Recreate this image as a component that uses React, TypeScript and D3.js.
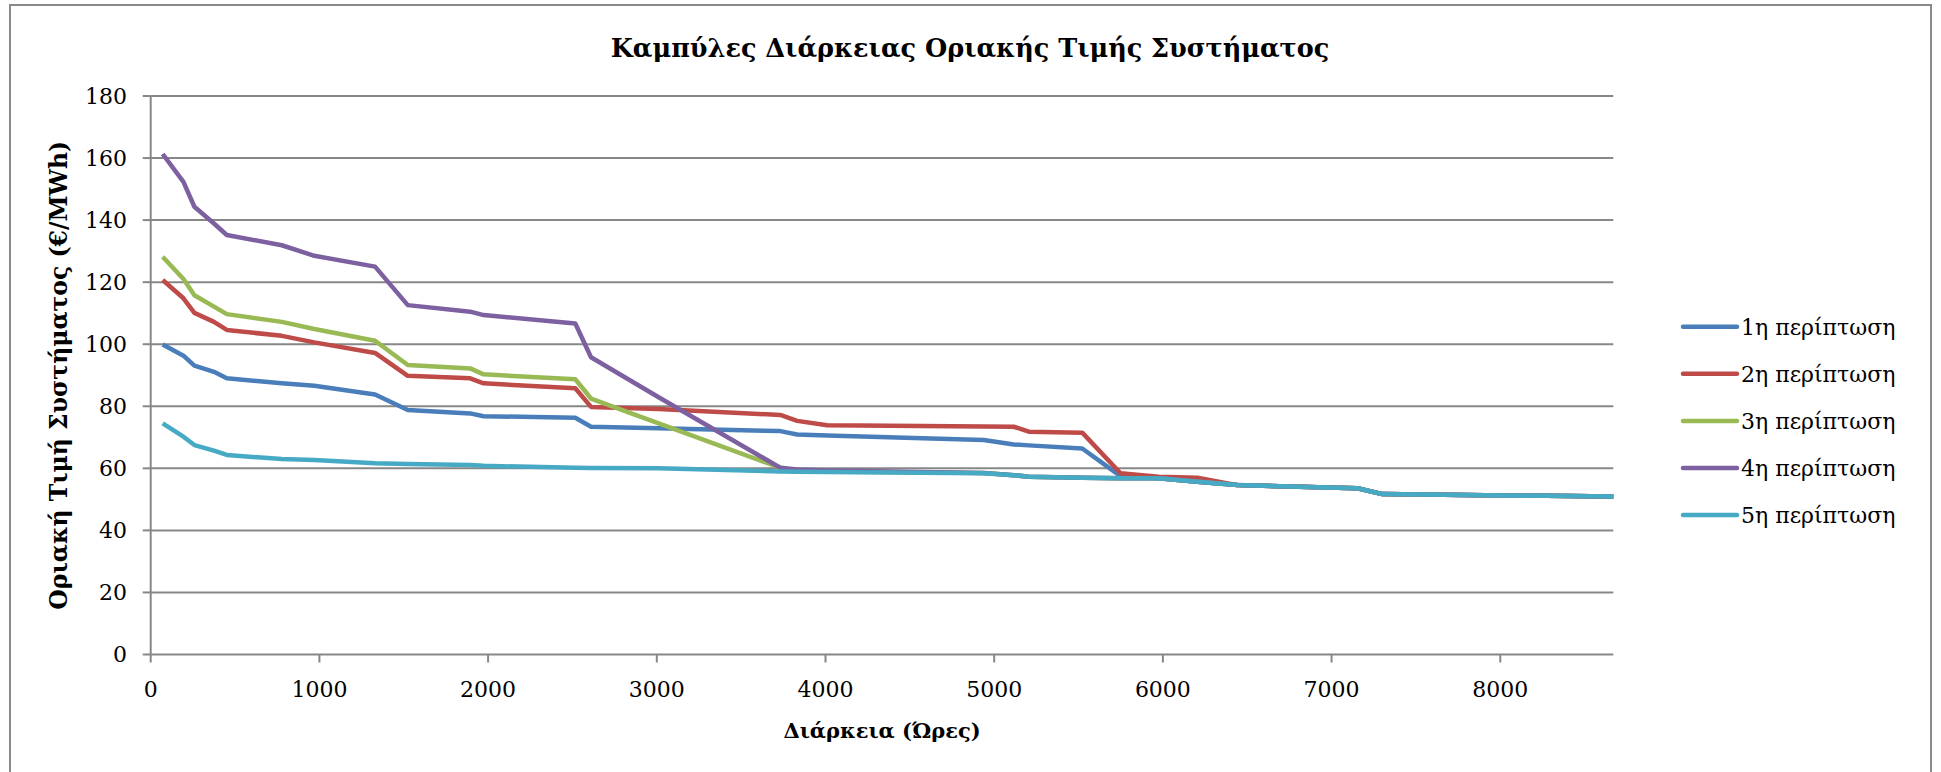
import React from "react";
import * as d3 from "d3";

// ώρες (κοινός άξονας x για όλες τις περιπτώσεις)
const hours = [71, 194, 259, 375, 451, 777, 970, 1330, 1524, 1894, 1973, 2517, 2610, 3011, 3732, 3832, 4010, 4938, 5117, 5205, 5522, 5749, 5975, 6204, 6441, 7153, 7301, 8670];

const case1 = [99.9, 96.3, 93.1, 91.1, 89.0, 87.4, 86.6, 83.8, 78.8, 77.7, 76.8, 76.3, 73.4, 72.9, 72.0, 70.9, 70.6, 69.1, 67.7, 67.4, 66.4, 57.5, 56.8, 55.7, 54.6, 53.6, 51.7, 50.9];
const case2 = [120.7, 114.8, 110.1, 107.2, 104.6, 102.7, 100.6, 97.2, 89.8, 89.0, 87.4, 85.8, 79.8, 79.1, 77.2, 75.3, 73.9, 73.5, 73.4, 71.8, 71.5, 58.4, 57.3, 57.0, 54.6, 53.6, 51.7, 50.9];
const case3 = [128.2, 121.0, 115.8, 112.1, 109.7, 107.2, 104.9, 101.1, 93.3, 92.2, 90.3, 88.7, 82.5, 74.5, 60.2, 59.3, 59.0, 58.5, 57.8, 57.3, 57.0, 56.8, 56.8, 55.7, 54.6, 53.6, 51.7, 50.9];
const case4 = [161.3, 152.3, 144.3, 138.9, 135.2, 131.9, 128.5, 125.0, 112.6, 110.5, 109.4, 106.7, 95.8, 82.9, 60.2, 59.6, 59.3, 58.5, 57.8, 57.3, 57.0, 56.8, 56.8, 55.7, 54.6, 53.6, 51.7, 50.9];
const case5 = [74.5, 70.2, 67.5, 65.7, 64.3, 63.0, 62.7, 61.6, 61.4, 61.1, 60.8, 60.2, 60.1, 60.0, 59.0, 58.9, 58.8, 58.4, 57.8, 57.3, 57.0, 56.8, 56.8, 55.7, 54.6, 53.6, 51.7, 50.9];

const seriesNames = ["1η περίπτωση", "2η περίπτωση", "3η περίπτωση", "4η περίπτωση", "5η περίπτωση"];
const seriesColors = ["#4a7ebb", "#be4b48", "#98b954", "#7d60a0", "#46aac5"];
const seriesValues = [case1, case2, case3, case4, case5];

const xTicks = [0, 1000, 2000, 3000, 4000, 5000, 6000, 7000, 8000];
const yTicks = [0, 20, 40, 60, 80, 100, 120, 140, 160, 180];

const W = 1941;
const H = 772;
const font = "'DejaVu Serif', 'Liberation Serif', serif";

export default function App() {
  const x = d3.scaleLinear().domain([0, 8670]).range([150.7, 1613.3]);
  const y = d3.scaleLinear().domain([0, 180]).range([654.5, 96]);

  const line = d3
    .line<number>()
    .x((d, i) => x(hours[i]))
    .y((d) => y(d));

  const gridColor = "#878787";

  return (
    <div style={{ position: "absolute", left: 0, top: 0 }}>
      <svg width={W} height={H} style={{ display: "block", background: "#fff" }}>
        <rect x={10} y={5} width={1921} height={800} fill="#fff" stroke="#8a8a8a" strokeWidth={2} />

        {/* title */}
        <text x={970} y={57} textAnchor="middle" fontFamily={font} fontWeight="bold" fontSize={25.5} fill="#000">
          Καμπύλες Διάρκειας Οριακής Τιμής Συστήματος
        </text>

        {/* horizontal gridlines + y ticks */}
        {yTicks.map((t) => (
          <g key={"y" + t}>
            <line x1={x(0)} x2={x(8670)} y1={y(t)} y2={y(t)} stroke={gridColor} strokeWidth={2} />
            <line x1={x(0) - 8} x2={x(0)} y1={y(t)} y2={y(t)} stroke={gridColor} strokeWidth={2} />
            <text x={127} y={y(t)} dy="0.36em" textAnchor="end" fontFamily={font} fontSize={22} fill="#000">
              {t}
            </text>
          </g>
        ))}

        {/* y axis line */}
        <line x1={x(0)} x2={x(0)} y1={y(180)} y2={y(0)} stroke={gridColor} strokeWidth={2} />

        {/* x ticks */}
        {xTicks.map((t) => (
          <g key={"x" + t}>
            <line x1={x(t)} x2={x(t)} y1={y(0)} y2={y(0) + 8} stroke={gridColor} strokeWidth={2} />
            <text x={x(t)} y={697} textAnchor="middle" fontFamily={font} fontSize={22} fill="#000">
              {t}
            </text>
          </g>
        ))}

        {/* series */}
        {seriesValues.map((vals, i) => (
          <path
            key={seriesNames[i]}
            d={line(vals) || ""}
            fill="none"
            stroke={seriesColors[i]}
            strokeWidth={4.5}
            strokeLinejoin="round"
          />
        ))}

        {/* axis titles */}
        <text x={882} y={738} textAnchor="middle" fontFamily={font} fontWeight="bold" fontSize={21} fill="#000">
          Διάρκεια (Ώρες)
        </text>
        <text
          transform={`translate(59, ${(y(0) + y(180)) / 2}) rotate(-90)`}
          dy="0.35em"
          textAnchor="middle"
          fontFamily={font}
          fontWeight="bold"
          fontSize={23.5}
          fill="#000"
        >
          Οριακή Τιμή Συστήματος (€/MWh)
        </text>

        {/* legend */}
        {seriesNames.map((name, i) => {
          const ly = 326.7 + i * 47.1;
          return (
            <g key={"leg" + i}>
              <line x1={1683} x2={1737} y1={ly} y2={ly} stroke={seriesColors[i]} strokeWidth={4.5} strokeLinecap="round" />
              <text x={1741} y={ly} dy="0.36em" fontFamily={font} fontSize={22} fill="#000">
                {name}
              </text>
            </g>
          );
        })}
      </svg>
    </div>
  );
}
